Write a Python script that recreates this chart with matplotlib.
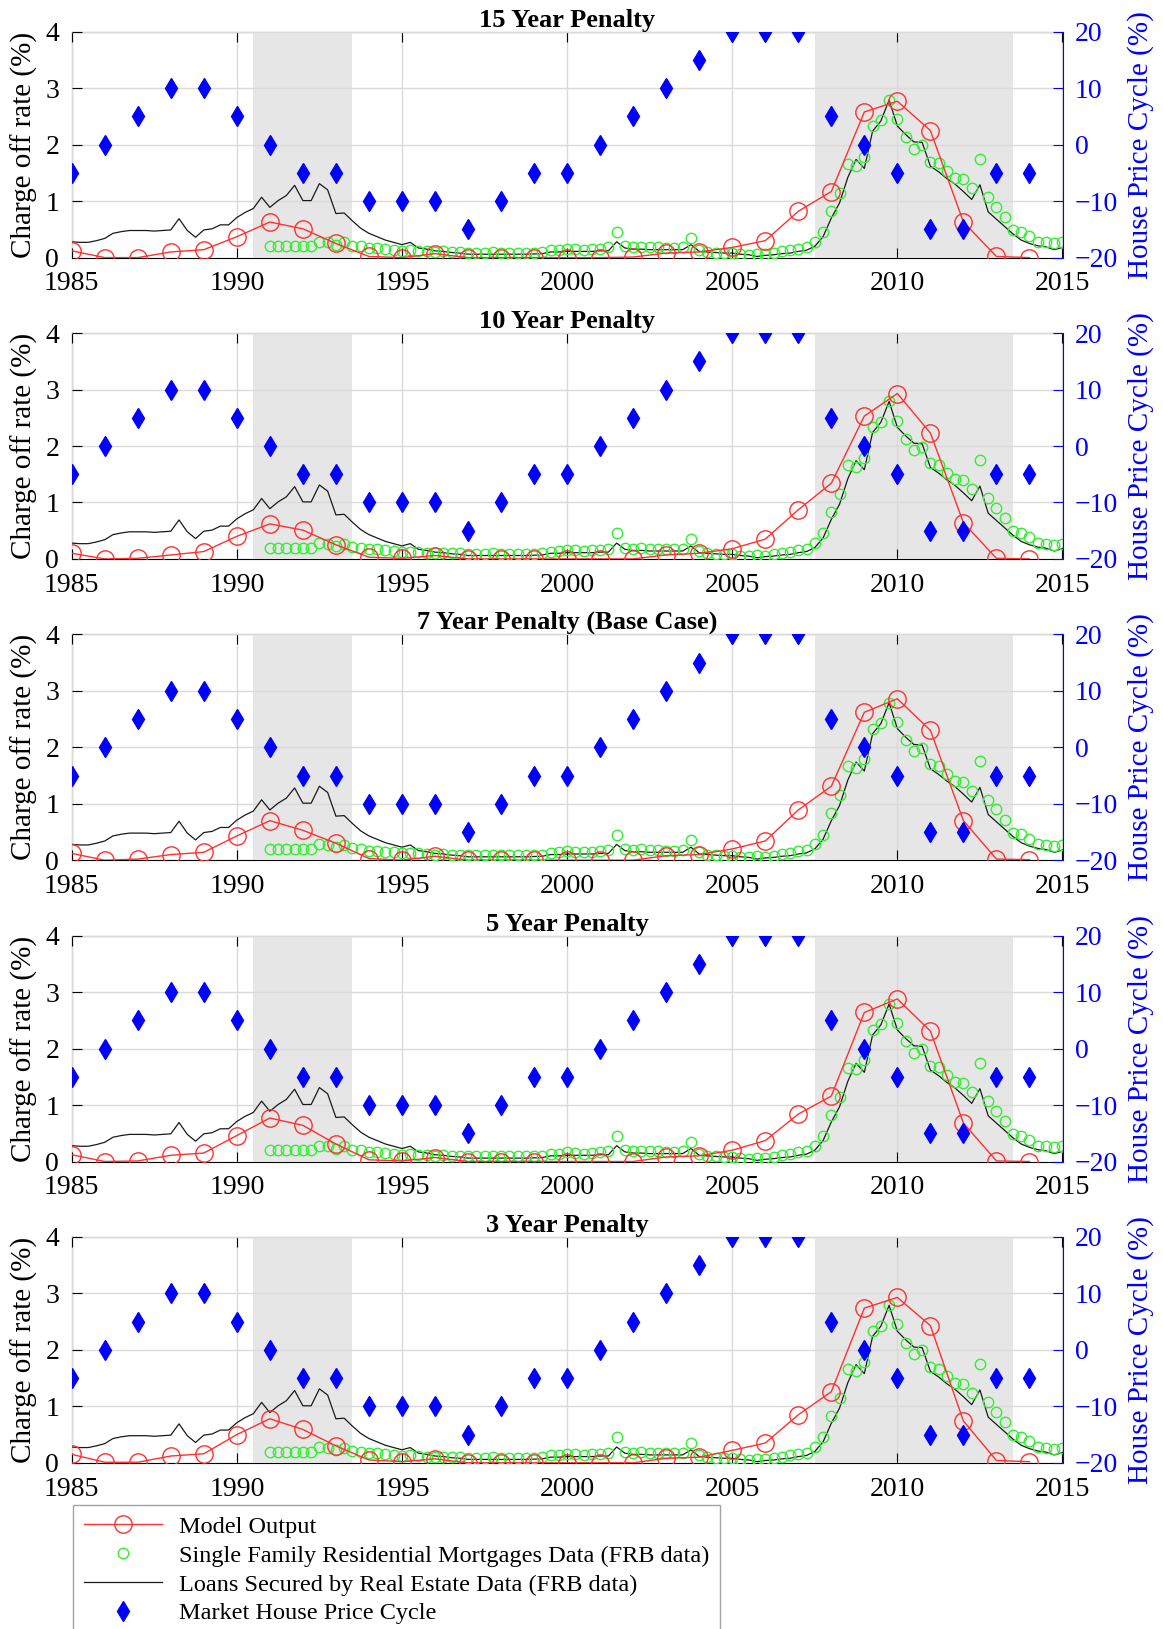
import numpy as np
import matplotlib.pyplot as plt

plt.rcParams['font.family'] = ['Liberation Serif', 'DejaVu Serif']

# annual series (1985..2014)
years = np.arange(1985, 2015)
house_price_cycle = [-5, 0, 5, 10, 10, 5, 0, -5, -5, -10, -10, -10, -15, -10, -5,
                     -5, 0, 5, 10, 15, 20, 20, 20, 5, 0, -5, -15, -15, -5, -5]

model_15 = [0.12, 0.00, 0.00, 0.10, 0.14, 0.37, 0.63, 0.51, 0.25, 0.02, 0.00, 0.07, 0.00, 0.00, 0.00,
            0.00, 0.00, 0.01, 0.08, 0.10, 0.18, 0.30, 0.82, 1.17, 2.58, 2.77, 2.25, 0.63, 0.02, 0.00]
model_10 = [0.10, 0.00, 0.01, 0.07, 0.13, 0.40, 0.62, 0.51, 0.25, 0.03, 0.01, 0.06, 0.00, 0.00, 0.00,
            0.00, 0.00, 0.00, 0.07, 0.10, 0.18, 0.35, 0.87, 1.34, 2.53, 2.93, 2.23, 0.64, 0.01, 0.00]
model_7 = [0.12, 0.00, 0.02, 0.10, 0.14, 0.43, 0.70, 0.53, 0.30, 0.03, 0.00, 0.07, 0.00, 0.00, 0.00,
           0.00, 0.00, 0.00, 0.08, 0.10, 0.20, 0.34, 0.89, 1.31, 2.62, 2.86, 2.30, 0.70, 0.02, 0.01]
model_5 = [0.12, 0.00, 0.01, 0.11, 0.15, 0.46, 0.77, 0.64, 0.31, 0.03, 0.01, 0.07, 0.00, 0.00, 0.00,
           0.00, 0.00, 0.00, 0.08, 0.10, 0.20, 0.37, 0.84, 1.16, 2.64, 2.88, 2.31, 0.68, 0.01, 0.00]
model_3 = [0.15, 0.01, 0.01, 0.12, 0.16, 0.50, 0.78, 0.59, 0.30, 0.05, 0.02, 0.07, 0.00, 0.00, 0.00,
           0.00, 0.00, 0.00, 0.08, 0.10, 0.22, 0.35, 0.85, 1.26, 2.74, 2.93, 2.43, 0.74, 0.04, 0.02]

# quarterly FRB data
real_estate_q = np.arange(1985, 2015.01, 0.25)
real_estate = [0.28, 0.27, 0.27, 0.30, 0.34, 0.43, 0.46, 0.48, 0.48, 0.48, 0.47, 0.48,
               0.49, 0.69, 0.48, 0.36, 0.49, 0.51, 0.58, 0.58, 0.71, 0.80, 0.87, 1.07,
               0.89, 1.01, 1.10, 1.28, 1.01, 1.01, 1.31, 1.20, 0.78, 0.79, 0.65, 0.52,
               0.43, 0.37, 0.31, 0.27, 0.23, 0.27, 0.17, 0.15, 0.12, 0.11, 0.09, 0.08,
               0.06, 0.06, 0.06, 0.06, 0.06, 0.06, 0.06, 0.06, 0.065, 0.07, 0.10, 0.10,
               0.11, 0.11, 0.11, 0.11, 0.12, 0.12, 0.28, 0.17, 0.15, 0.15, 0.14, 0.14,
               0.14, 0.14, 0.14, 0.23, 0.11, 0.10, 0.09, 0.08, 0.08, 0.06, 0.05, 0.02,
               0.04, 0.05, 0.07, 0.08, 0.11, 0.13, 0.20, 0.37, 0.70, 0.97, 1.42, 1.74,
               1.58, 2.24, 2.42, 2.79, 2.33, 2.18, 2.05, 2.04, 1.62, 1.52, 1.40, 1.30,
               1.17, 1.03, 1.29, 0.81, 0.68, 0.55, 0.42, 0.31, 0.25, 0.21, 0.19, 0.14,
               0.18]

sfrm_q = np.arange(1991, 2015.01, 0.25)
sfrm = [0.20, 0.20, 0.20, 0.20, 0.20, 0.20, 0.28, 0.27, 0.23, 0.27, 0.21, 0.20,
        0.17, 0.17, 0.15, 0.14, 0.12, 0.13, 0.12, 0.11, 0.10, 0.11, 0.10, 0.10,
        0.09, 0.09, 0.09, 0.10, 0.09, 0.09, 0.09, 0.09, 0.09, 0.10, 0.13, 0.14,
        0.16, 0.15, 0.14, 0.15, 0.16, 0.18, 0.45, 0.20, 0.18, 0.19, 0.18, 0.18,
        0.17, 0.17, 0.18, 0.35, 0.14, 0.10, 0.09, 0.08, 0.08, 0.06, 0.05, 0.07,
        0.06, 0.08, 0.11, 0.13, 0.16, 0.18, 0.28, 0.45, 0.83, 1.15, 1.66, 1.63,
        1.79, 2.33, 2.43, 2.79, 2.45, 2.13, 1.93, 1.99, 1.70, 1.67, 1.53, 1.41,
        1.39, 1.23, 1.75, 1.07, 0.90, 0.72, 0.49, 0.46, 0.38, 0.28, 0.27, 0.25,
        0.27]

panels = [("15 Year Penalty", model_15),
          ("10 Year Penalty", model_10),
          ("7 Year Penalty (Base Case)", model_7),
          ("5 Year Penalty", model_5),
          ("3 Year Penalty", model_3)]

recessions = [(1990.5, 1993.5), (2007.5, 2013.5)]

W, H = 1163, 1629
fig = plt.figure(figsize=(W / 100, H / 100), dpi=100)

red = '#ff3030'
green = '#33ee33'
blue = '#0000ff'

for i, (title, model) in enumerate(panels):
    top = 31.8 + 301.3 * i
    ax = fig.add_axes([71.7 / W, 1 - (top + 225.8) / H, (1062.5 - 71.7) / W, 225.8 / H])
    for s in ax.spines.values():
        s.set_zorder(0.2)
    ax.spines['right'].set_visible(False)
    for a, b in recessions:
        ax.axvspan(a, b, color='#e6e6e6', lw=0, zorder=0.3)
    ax.grid(True, color='#dadada', lw=1)
    ax.set_axisbelow(True)

    h_black, = ax.plot(real_estate_q, real_estate, color='#1a1a1a', lw=0.9, zorder=2)
    h_green, = ax.plot(sfrm_q, sfrm, ls='none', marker='o', ms=7.5, mfc='none',
                       mec=green, mew=1, zorder=3)
    h_red, = ax.plot(years, model, color=red, lw=1, marker='o', ms=12.5, mfc='none',
                     mec=red, mew=1, zorder=4)

    ax.set_xlim(1985, 2015)
    ax.set_ylim(0, 4)
    ax.set_xticks(range(1985, 2016, 5))
    ax.set_yticks(range(0, 5))
    ax.tick_params(direction='in', length=7, labelsize=20, top=True)
    ax.tick_params(axis='x', pad=10)
    ax.tick_params(axis='y', pad=9)
    ax.set_ylabel('Charge off rate (%)', fontsize=21, labelpad=5)
    ax.set_title(title, fontweight='bold', fontsize=19, pad=1)

    ax2 = ax.twinx()
    for side in ['left', 'top', 'bottom']:
        ax2.spines[side].set_visible(False)
    ax2.spines['right'].set_color(blue)
    h_blue, = ax2.plot(years, house_price_cycle, ls='none', marker='d', ms=10.5,
                       color=blue, zorder=5)
    ax2.set_ylim(-20, 20)
    ax2.set_yticks([-20, -10, 0, 10, 20])
    ax2.tick_params(direction='in', length=7, labelsize=20, colors=blue, pad=9)
    ax2.set_ylabel('House Price Cycle (%)', fontsize=21, color=blue, labelpad=6)

leg = fig.legend([h_red, h_green, h_black, h_blue],
                 ['Model Output',
                  'Single Family Residential Mortgages Data (FRB data)',
                  'Loans Secured by Real Estate Data (FRB data)',
                  'Market House Price Cycle'],
                 loc='upper left', bbox_to_anchor=(72.8 / W, 1 - 1505 / H),
                 bbox_transform=fig.transFigure, fontsize=17.5, frameon=True,
                 fancybox=False, edgecolor='#8c8c8c', borderaxespad=0,
                 handlelength=3.2, handletextpad=0.7, labelspacing=0.28,
                 borderpad=0.45, numpoints=1)
leg.get_frame().set_linewidth(1)

fig.savefig('out.png', dpi=100)
